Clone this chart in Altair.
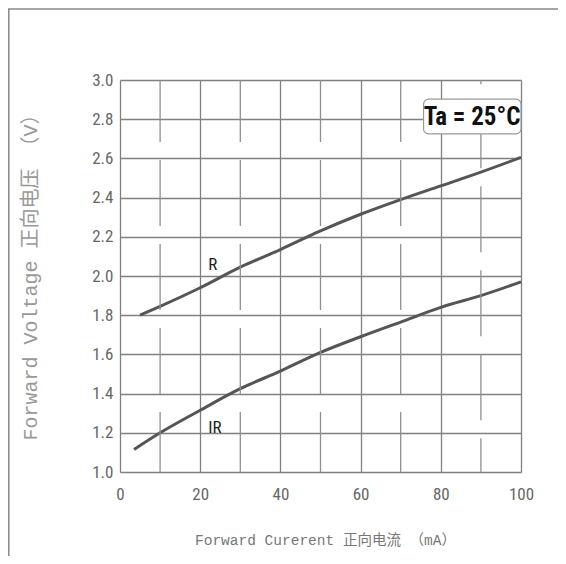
import altair as alt
import pandas as pd

# ---- data ----
r_current = [5, 10, 20, 30, 40, 50, 60, 70, 80, 90, 100]
r_voltage = [1.80, 1.845, 1.94, 2.045, 2.135, 2.23, 2.315, 2.39, 2.46, 2.53, 2.605]

ir_current = [3.5, 10, 20, 30, 40, 50, 60, 70, 80, 90, 100]
ir_voltage = [1.115, 1.20, 1.315, 1.425, 1.515, 1.61, 1.69, 1.765, 1.84, 1.90, 1.97]

x_ticks = [0, 20, 40, 60, 80, 100]
y_ticks = [1.0, 1.2, 1.4, 1.6, 1.8, 2.0, 2.2, 2.4, 2.6, 2.8, 3.0]
minor_x_a = [10, 30, 50, 70]
minor_x_b = [90]

labels = ["R", "IR"]
label_x = [22, 22]
label_y = [2.033, 1.198]

box_text = "Ta = 25°C"

x_title = "Forward Curerent 正向电流 （mA）"
y_title = "Forward Voltage 正向电压 （V）"

# ---- tables ----
curves = pd.DataFrame(
    {"I": r_current + ir_current,
     "V": r_voltage + ir_voltage,
     "s": ["R"] * len(r_current) + ["IR"] * len(ir_current)}
)
lab_df = pd.DataFrame({"I": label_x, "V": label_y, "t": labels})
minor_a = pd.DataFrame({"I": minor_x_a, "V": [3.0] * len(minor_x_a), "bot": [1.0] * len(minor_x_a)})
minor_b = pd.DataFrame({"I": minor_x_b, "V": [3.0] * len(minor_x_b), "bot": [1.0] * len(minor_x_b)})
box_df = pd.DataFrame({"I": [75.7], "x2": [100.0], "V": [2.902], "y2": [2.725],
                       "tx": [87.8], "ty": [2.812], "t": [box_text]})

W, H = 401, 392
NUM_FONT = "Liberation Sans Narrow, Roboto Condensed, DejaVu Sans Condensed, Arial Narrow, sans-serif"
MONO = "Liberation Mono, Noto Sans CJK SC, monospace"

xs = alt.Scale(domain=[0, 100], nice=False, zero=False)
ys = alt.Scale(domain=[1.0, 3.0], nice=False, zero=False)

x_axis = alt.Axis(values=x_ticks, grid=True, gridColor="#808080", gridWidth=1.3, gridOpacity=1,
                  ticks=False, tickSize=0, domain=False, labelPadding=14,
                  labelFlush=False, labelOverlap=False,
                  labelFont=NUM_FONT, labelFontSize=17, labelColor="#666",
                  title=x_title, titleFont=MONO, titleFontSize=14.5, titleFontWeight="normal",
                  titleColor="#777", titleX=205, titleY=68, titleAlign="center",
                  titleBaseline="middle")
y_axis = alt.Axis(values=y_ticks, format=".1f", grid=True, gridColor="#808080", gridWidth=1.3,
                  gridOpacity=1, ticks=False, tickSize=0, domain=False, labelPadding=7,
                  labelFlush=False, labelOverlap=False,
                  labelFont=NUM_FONT, labelFontSize=17, labelColor="#666",
                  title=y_title, titleFont=MONO, titleFontSize=20, titleFontWeight="normal",
                  titleColor="#999", titleAngle=-90, titleX=-90, titleY=192,
                  titleAlign="center", titleBaseline="middle")

X = alt.X("I:Q", scale=xs, axis=x_axis)
Y = alt.Y("V:Q", scale=ys, axis=y_axis)

base_lines = alt.Chart(curves).mark_line(color="#555", strokeWidth=3, interpolate="monotone").encode(
    x=X, y=Y, detail="s:N",
)

def dashed(df, offset):
    return alt.Chart(df).mark_rule(color="#909090", strokeWidth=1.3, strokeDash=[66, 18],
                                   strokeDashOffset=offset).encode(
        x=X, y=Y, y2="bot:Q")

dash_a = dashed(minor_a, 4)
dash_b = dashed(minor_b, 61.7)

box = alt.Chart(box_df).mark_rect(fill="white", stroke="#999", strokeWidth=1.2,
                                  cornerRadius=5).encode(
    x=X, x2="x2:Q", y=Y, y2="y2:Q")
box_t = alt.Chart(box_df).mark_text(font=NUM_FONT, fontSize=25, fontWeight="bold",
                                    color="#111", align="center", baseline="middle").encode(
    x=alt.X("tx:Q", scale=xs, axis=x_axis), y=alt.Y("ty:Q", scale=ys, axis=y_axis), text="t:N")

lab = alt.Chart(lab_df).mark_text(font=NUM_FONT, fontSize=17, color="#222",
                                  align="left", baseline="alphabetic").encode(
    x=X, y=Y, text="t:N")

frame_top = alt.Chart(pd.DataFrame({"a": [0]})).mark_rule(color="#888", strokeWidth=1.5).encode(
    x=alt.value(-112), x2=alt.value(438), y=alt.value(-71))
frame_left = alt.Chart(pd.DataFrame({"a": [0]})).mark_rule(color="#888", strokeWidth=1.5).encode(
    x=alt.value(-111.2), y=alt.value(-71), y2=alt.value(476))

chart = alt.layer(base_lines, dash_a, dash_b, box, box_t, lab, frame_top, frame_left).properties(
    width=W, height=H, autosize="none",
    padding={"left": 112, "top": 72, "right": 37, "bottom": 84},
).configure_view(strokeWidth=0).configure(background="white")

chart.save("out.html", embed_options={"renderer": "svg", "actions": False})
